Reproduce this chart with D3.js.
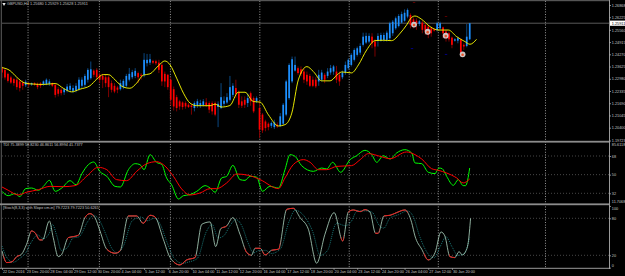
<!DOCTYPE html>
<html>
<head>
<meta charset="utf-8">
<script src="https://cdn.jsdelivr.net/npm/d3@7"></script>
<style>
html,body{margin:0;padding:0;background:#000;overflow:hidden}
svg{display:block}
text{font-family:"Liberation Sans",Arial,sans-serif;font-size:3.8px;fill:#c4c4c4}
</style>
</head>
<body>
<svg id="chart" width="625" height="276"></svg>
<script>
// GBPUSD H4 candles, prices in units of 0.0001
const opens=[12354,12345,12324,12305,12296,12293,12284,12278,12264,12275,
12268,12275,12271,12273,12270,12271,12271,12275,12266,12243,
12240,12227,12236,12240,12234,12236,12243,12261,12266,12293,
12301,12341,12345,12319,12313,12306,12306,12275,12261,12252,
12243,12254,12261,12293,12306,12313,12328,12319,12319,12380,
12383,12392,12390,12383,12371,12324,12319,12293,12243,12201,
12179,12173,12170,12161,12157,12144,12156,12156,12159,12173,
12170,12170,12170,12149,12144,12166,12173,12187,12213,12249,
12226,12179,12187,12170,12222,12196,12179,12144,12109,12073,
12061,12050,12043,12056,12050,12061,12109,12196,12284,12341,
12354,12348,12336,12319,12313,12293,12293,12284,12293,12319,
12313,12331,12336,12336,12319,12306,12331,12354,12371,12398,
12424,12436,12477,12489,12494,12520,12494,12499,12499,12503,
12503,12512,12538,12564,12576,12594,12604,12626,12634,12611,
12604,12587,12594,12582,12573,12564,12559,12556,12564,12569,
12547,12538,12515,12499,12499,12506,12477,12471,12506];
const closes=[12331,12305,12287,12278,12275,12254,12249,12261,12282,12268,
12275,12268,12254,12261,12284,12293,12284,12261,12213,12219,
12222,12243,12257,12261,12249,12261,12293,12293,12313,12345,
12348,12319,12306,12293,12293,12275,12254,12240,12231,12240,
12275,12287,12313,12324,12333,12340,12306,12313,12398,12398,
12401,12383,12380,12345,12284,12284,12254,12187,12152,12144,
12152,12149,12152,12149,12149,12170,12179,12170,12179,12159,
12135,12126,12109,12166,12201,12182,12201,12254,12261,12219,
12161,12156,12161,12196,12179,12126,12196,12030,12026,12038,
12043,12065,12068,12047,12100,12161,12284,12371,12401,12371,
12328,12324,12293,12284,12261,12261,12258,12319,12331,12293,
12336,12354,12363,12293,12284,12331,12371,12398,12424,12450,
12459,12471,12520,12524,12524,12485,12468,12524,12529,12529,
12541,12591,12599,12617,12629,12639,12646,12661,12582,12573,
12587,12601,12556,12547,12529,12538,12552,12591,12591,12538,
12512,12506,12477,12506,12512,12433,12468,12520,12591];
const highs=[12363,12354,12331,12314,12301,12301,12293,12289,12293,12280,
12278,12280,12278,12280,12289,12300,12296,12278,12275,12254,
12249,12249,12271,12275,12264,12275,12306,12306,12324,12354,
12389,12348,12354,12328,12324,12319,12317,12289,12275,12261,
12293,12296,12324,12355,12345,12354,12336,12328,12433,12429,
12429,12398,12398,12398,12380,12336,12324,12306,12257,12213,
12187,12179,12179,12170,12166,12179,12192,12187,12191,12196,
12179,12179,12179,12179,12275,12205,12222,12313,12275,12293,
12236,12205,12205,12222,12231,12205,12205,12179,12117,12082,
12068,12073,12082,12068,12117,12170,12293,12380,12415,12415,
12363,12363,12354,12336,12324,12310,12306,12345,12345,12328,
12354,12371,12371,12366,12336,12341,12389,12406,12433,12459,
12468,12485,12541,12541,12538,12538,12506,12538,12541,12541,
12552,12599,12608,12626,12639,12652,12664,12669,12643,12622,
12617,12608,12604,12591,12582,12573,12564,12599,12599,12573,
12556,12547,12520,12512,12520,12512,12485,12587,12593];
const lows=[12301,12293,12278,12271,12261,12240,12231,12240,12254,12254,
12261,12261,12243,12249,12261,12264,12261,12254,12199,12205,
12210,12213,12226,12226,12222,12226,12236,12249,12254,12278,
12293,12306,12293,12275,12249,12254,12201,12226,12222,12222,
12236,12243,12252,12284,12296,12301,12275,12293,12306,12363,
12371,12376,12371,12328,12261,12254,12240,12156,12131,12126,
12135,12135,12140,12144,12109,12126,12144,12144,12152,12149,
12117,12109,12100,12043,12138,12152,12166,12179,12201,12196,
12144,12144,12144,12149,12156,12117,12170,11986,12012,12021,
12026,12038,12033,12038,12043,12054,12100,12187,12275,12336,
12319,12310,12275,12266,12254,12254,12249,12261,12284,12275,
12301,12319,12319,12275,12261,12296,12319,12345,12363,12389,
12415,12424,12468,12482,12485,12459,12415,12468,12494,12494,
12494,12503,12524,12556,12569,12587,12599,12617,12564,12564,
12556,12576,12538,12529,12512,12520,12547,12547,12556,12512,
12494,12494,12459,12494,12485,12415,12450,12464,12503];

// Yellow moving average, bar index and price
const maBars=[0,2.7,5,7.8,10.6,14,18,20.7,23.5,26.3,29.7,32,34.2,36,38.2,41,43.2,45.5,47.7,50,52.8,55,56.8,59,61.3,63.5,65.8,70.3,72,74.2,77,79.8,82.1,84.9,87.2,90,93.4,95.6,97.9,100.1,103,105.2,108,110.8,113.6,114.8,118.1,120.4,123.2,126,128.8,131.6,134.5,136.7,138.4,139.5,141.8,144.6,147.4,150.8,153.6,156.4,158.1,160.3];
const maValues=[12357,12341,12306,12275,12270,12268,12273,12248,12229,12243,12261,12296,12320,12320,12292,12254,12248,12275,12317,12324,12366,12392,12371,12301,12222,12170,12156,12156,12164,12149,12157,12227,12227,12178,12175,12108,12049,12056,12117,12292,12362,12336,12287,12287,12324,12334,12329,12371,12450,12499,12501,12499,12538,12582,12622,12629,12611,12573,12555,12555,12520,12494,12480,12506];

// Signal markers on the price pane
const signalBars=[139.2,143.8,149.9,155.6];
const signalPrices=[12584,12546,12525,12427];
const dashBars=[139.2,150,138.5,150];
const dashPrices=[12703,12629,12460,12429];
const dashColors=["#5a0000","#5a0000","#000080","#000080"];

// TDI pane
const tdiGreenBars=[0,2.1,4.4,6,8,10,12.3,14,16,18,20.2,23,25,27,29.2,31,33,35.4,38.2,40,42.7,45,46.6,48,50,52.2,54,55.6,57.3,59.6,61.3,63.5,65.8,68.6,70.3,72,74.2,75.9,78,80.4,82.1,83.8,86,88,90.5,93.4,95.6,97.3,99,101.2,105.2,108,109.7,111.7,114.4,117.6,119.8,122.6,124.9,126.6,128.8,131.1,133.3,136.1,138.4,139.5,141.8,144,146.3,147.6,148.7,150.2,152.5,154.1,155.8,156.6,158];
const tdiGreen=[33.9,29.7,31.7,28.8,36.5,37.1,34.9,38.7,44.5,33.9,37.1,44.2,40.3,51,59.7,62.2,53.2,48.4,38.7,38.1,54.8,60.6,59.7,54.8,69.3,61.9,59.7,46.8,40.3,26.5,29.7,30.7,33.9,39.4,37.1,33,46.8,48.4,59,45.2,44.5,48.4,47.7,33.9,38.7,37.1,54.8,69.3,67.7,58.7,53.2,56.4,55.5,61.9,52.3,64.5,68.3,73.5,69.3,61.9,68.3,65.1,70.9,74.1,70.9,61.3,60.6,52.3,51,56.4,55.8,48.4,39.7,45.2,39.4,39.4,56.4];
const tdiRedBars=[0,2.1,5.5,8.3,12.3,16.2,20.7,24.7,28.6,32.5,35.4,38.7,42.1,45.5,48.9,52.2,54.5,57.9,60.7,63.5,66.9,70.3,72.5,75.9,79.3,83.2,87.2,93.4,95.6,98.4,101.8,104.1,106.9,109.7,113.1,118.1,121,123.8,127.7,131.1,136.7,139.5,141.8,145.1,147.4,150.2,153.6,155.8,158];
const tdiRed=[38.1,34.9,30.4,33,35.5,38.7,38.4,39.4,48.4,57.1,54.8,45.2,44.2,53.2,60.6,62.5,59.7,48.4,36.2,30.4,32.3,36.5,36.5,42,50.6,49.4,45.2,36.5,46.8,59.7,64.5,61.9,54.8,54.8,58,58.7,64.5,70.3,67.7,65.4,71.9,69.3,65.1,55.8,54.2,51.6,46.8,42,45.8];

// Stochastic pane
const stochBars=[0,1.6,3.3,5,6.6,8.3,10,11.1,12.8,13.7,16,17.3,19,20.2,22.4,24.1,25.8,28,29.7,31.4,33.1,35.4,38.2,39.9,42.7,45.5,47.7,50,51.7,54.5,56.8,60.1,62.4,65.2,67.5,70.3,72.2,73.9,75.9,78,80.4,82.7,84.3,85.5,87.2,88.9,91.1,93.4,96.2,98.4,100.7,103.5,106.3,109.1,112.2,115.1,117,118.7,121,122.6,124.3,126.2,127.1,129,131.1,133.3,136.1,138.4,139.5,141.8,144,146.3,148.3,149.6,151.3,153,154.4,155.5,156.6,157.5,158.3];
const stochMain=[27,8.2,9.3,17.9,21.7,37.9,59.5,56.8,44.9,44.9,75.7,48.7,17.9,21.7,48.7,50.3,52.5,81.1,87.6,81.1,59.5,29.8,23.3,27.1,83.8,83.8,71.9,84.9,82.2,46,16.3,4.4,12.5,16.3,70.3,74.1,34.1,63.3,67.6,81.1,54.1,24.4,20.1,31.4,31.4,20.6,28.2,29.8,94.6,96.2,81.1,62.2,7.1,54.1,89.2,43.3,90.3,93.5,90.8,94,90.3,55.7,55.7,83.8,84.9,89.2,93.5,73,51.4,29.8,12.5,24.4,57.9,51.4,17.9,16.3,26,20.6,26,40.6,80];
const stochSignalBars=[0,2,4,6,8,10,12,14,16,17,18.5,20,22,24,26,29,31,33,35,37,39,41,44,47,49,51.5,53,56,58,61,63,66,69,71,73,75,77,79,81,83,85,87,89,91,94,97,99,102,105,107.5,110,113,116,118,120,123,125,127.5,129,131,134,137,139,141,144,146,148,150,152,154,156,158];
const stochSignal=[35,14,9,15,24,42,53,47,56,70,52,28,32,48,50,75,85,76,55,32,24,35,76,82,76,80,74,38,16,7,9,15,58,70,48,52,68,78,68,42,24,28,28,23,30,75,93,84,58,20,28,72,68,75,92,92,90,68,64,80,86,92,82,52,22,16,34,50,34,20,22,48.7];
// Bar spans where the stochastic is painted red
const stochRedStart=[0.5,9.5,22,28,35.4,42.5,47,58,74.2,82,85.5,88,91,96,114.5,117,126,129,142.5,151];
const stochRedEnd=[6,13.7,26,31,40,46,52,65.5,76,84,87.5,90,94,99,115.5,123.5,127.5,137,144.5,153];

// Axis labels
const timeTicks=["22 Dec 2016","23 Dec 20:00","28 Dec 04:00","29 Dec 12:00","30 Dec 20:00","4 Jan 04:00","5 Jan 12:00","6 Jan 20:00","10 Jan 04:00","11 Jan 12:00","12 Jan 20:00","16 Jan 04:00","17 Jan 12:00","18 Jan 20:00","20 Jan 04:00","23 Jan 12:00","24 Jan 20:00","26 Jan 04:00","27 Jan 12:00","30 Jan 20:00"];
const dayLines=[8.8,32.9,56.9,87.1,117.3,147.4,183.6];
const priceTicks=[12687,12622.5,12556,12491.5,12427,12362.5,12298,12233.5,12169,12104.5,12040,11972.3];
const priceTickLabels=["1.26868","1.26225","1.25560","1.24915","1.24270","1.23625","1.22980","1.22335","1.21690","1.21045","1.20400","1.19723"];
const lastPrice=12591;
const tdiTicks=[68,50,32];
const stochTicks=[100,80,20,0];

const titleMain="GBPUSD,H4  1.25680 1.25929 1.25628 1.25911";
const titleTdi="TDI 75.3899 58.8230 46.8611 56.8994 41.7377";
const titleStoch="[Stoch(8,3,3) with Slope cm.in] 79.7223 79.7223 50.6265";

const svg=d3.select("#chart");
const axisX=609.5;
const x=d3.scaleLinear().domain([0,158]).range([2,469.7]);
const yMain=d3.scaleLinear().domain([12687,12040]).range([5,127.7]);
const yTdi=d3.scaleLinear().domain([68,32]).range([156,193.3]);
const yStoch=d3.scaleLinear().domain([80,20]).range([218.3,255.3]);

const defs=svg.append("defs");
defs.append("clipPath").attr("id","mainClip").append("rect").attr("x",2).attr("y",1).attr("width",axisX-2).attr("height",139.5);
const redClip=defs.append("clipPath").attr("id","stochRed");
stochRedStart.forEach((s,i)=>redClip.append("rect")
  .attr("x",x(s)).attr("y",205).attr("width",x(stochRedEnd[i])-x(s)).attr("height",63));

// Dotted level lines
const levels=svg.append("g").attr("stroke","#666").attr("stroke-width",0.7).attr("stroke-dasharray","1 2");
tdiTicks.forEach(t=>levels.append("line").attr("x1",2).attr("x2",axisX).attr("y1",yTdi(t)).attr("y2",yTdi(t)));
[80,20].forEach(t=>levels.append("line").attr("x1",2).attr("x2",axisX).attr("y1",yStoch(t)).attr("y2",yStoch(t)));

// Dotted day separators
svg.append("g").attr("stroke","#a8a8a8").attr("stroke-width",0.9).attr("stroke-dasharray","1 1.6")
  .selectAll("line").data(dayLines).join("line")
  .attr("x1",d=>x(d)).attr("x2",d=>x(d)).attr("y1",1).attr("y2",268);

// Last price line
svg.append("line").attr("x1",2).attr("x2",axisX).attr("y1",yMain(lastPrice)).attr("y2",yMain(lastPrice))
  .attr("stroke","#6e6e6e").attr("stroke-width",0.8);

// Candles
const bars=d3.range(opens.length);
const isUp=i=>closes[i]>=opens[i];
const candles=svg.append("g").attr("clip-path","url(#mainClip)");
candles.append("g").selectAll("line").data(bars).join("line")
  .attr("x1",i=>x(i)).attr("x2",i=>x(i))
  .attr("y1",i=>yMain(highs[i])).attr("y2",i=>yMain(lows[i]))
  .attr("stroke",i=>isUp(i)?"#0b4f8f":"#8a0000").attr("stroke-width",0.9);
candles.append("g").selectAll("rect").data(bars).join("rect")
  .attr("x",i=>x(i)-0.85).attr("width",1.7)
  .attr("y",i=>yMain(Math.max(opens[i],closes[i])))
  .attr("height",i=>Math.max(0.8,Math.abs(yMain(opens[i])-yMain(closes[i]))))
  .attr("fill",i=>isUp(i)?"#1e90ff":"#ff0000");

// Small dashes left by the arrow indicator
svg.append("g").selectAll("rect").data(dashBars).join("rect")
  .attr("x",(d)=>x(d)-1.2).attr("width",2.4).attr("height",1)
  .attr("y",(d,i)=>yMain(dashPrices[i])).attr("fill",(d,i)=>dashColors[i]);

// Moving average
const maLine=d3.line().x((d,i)=>x(maBars[i])).y(d=>yMain(d)).curve(d3.curveMonotoneX);
svg.append("path").attr("d",maLine(maValues)).attr("fill","none").attr("stroke","#ffff00").attr("stroke-width",0.9);

// Round markers
const markers=svg.append("g").selectAll("g").data(signalBars).join("g")
  .attr("transform",(d,i)=>`translate(${x(d)},${yMain(signalPrices[i])})`);
markers.append("circle").attr("r",2.9).attr("fill","#cfc4c4");
markers.append("circle").attr("r",1.3).attr("cy",0.4).attr("fill","#e8552a");

// TDI lines
const lineOf=(xs,ys,scale)=>d3.line().x((d,i)=>x(xs[i])).y(d=>scale(d)).curve(d3.curveMonotoneX)(ys);
svg.append("path").attr("d",lineOf(tdiGreenBars,tdiGreen,yTdi)).attr("fill","none").attr("stroke","#00ff00").attr("stroke-width",1);
svg.append("path").attr("d",lineOf(tdiRedBars,tdiRed,yTdi)).attr("fill","none").attr("stroke","#ff0000").attr("stroke-width",1);

// Stochastic lines
svg.append("path").attr("d",lineOf(stochSignalBars,stochSignal,yStoch)).attr("fill","none")
  .attr("stroke","#1f8f8f").attr("stroke-width",0.8).attr("stroke-dasharray","1 1");
const stochPath=lineOf(stochBars,stochMain,yStoch);
svg.append("path").attr("d",stochPath).attr("fill","none").attr("stroke","#a6ccb8").attr("stroke-width",0.85);
svg.append("path").attr("d",stochPath).attr("fill","none").attr("stroke","#ff0000").attr("stroke-width",0.85).attr("clip-path","url(#stochRed)");

// Frame and pane dividers
const frame=svg.append("g");
frame.append("rect").attr("x",0).attr("y",0).attr("width",axisX).attr("height",1.2).attr("fill","#555");
frame.append("rect").attr("x",0.8).attr("y",0).attr("width",0.9).attr("height",268).attr("fill","#6a6a6a");
frame.append("rect").attr("x",0).attr("y",140.8).attr("width",axisX).attr("height",1.8).attr("fill","#8c8c8c");
frame.append("rect").attr("x",0).attr("y",203.4).attr("width",axisX).attr("height",1.8).attr("fill","#8c8c8c");
frame.append("rect").attr("x",0).attr("y",267.8).attr("width",axisX).attr("height",1).attr("fill","#9a9a9a");
frame.append("rect").attr("x",axisX-0.5).attr("y",0).attr("width",1).attr("height",269).attr("fill","#9a9a9a");

// Right-hand axes
const styleAxis=g=>{
  g.select(".domain").remove();
  g.selectAll(".tick line").attr("stroke","#bdbdbd").attr("stroke-width",0.7);
  g.selectAll(".tick text").attr("fill","#c4c4c4").style("font-size","3.8px");
};
svg.append("g").attr("transform",`translate(${axisX},0)`)
  .call(d3.axisRight(yMain).tickValues(priceTicks).tickSize(1.5).tickPadding(0.8)
    .tickFormat((d,i)=>priceTickLabels[i])).call(styleAxis);
svg.append("g").attr("transform",`translate(${axisX},0)`)
  .call(d3.axisRight(yTdi).tickValues(tdiTicks).tickSize(1.5).tickPadding(0.8)).call(styleAxis);
const stochAxis=svg.append("g").attr("transform",`translate(${axisX},0)`)
  .call(d3.axisRight(yStoch).tickValues(stochTicks).tickSize(1.5).tickPadding(0.8)).call(styleAxis);
stochAxis.selectAll(".tick").filter(d=>d===100).select("text").attr("dy","0.9em");
stochAxis.selectAll(".tick").filter(d=>d===0).select("text").attr("dy","-0.3em");

// Pane extremes of the TDI scale
svg.append("text").attr("x",axisX+2.3).attr("y",146).text("85.6118");
svg.append("text").attr("x",axisX+2.3).attr("y",203.3).text("11.7068");

// Last price tag
const tag=svg.append("g").attr("transform",`translate(${axisX+0.5},${yMain(lastPrice)})`);
tag.append("rect").attr("x",0).attr("y",-2.6).attr("width",15).attr("height",5.2).attr("fill","#ffffff");
tag.append("text").attr("x",1.8).attr("y",1.3).style("fill","#000").text("1.25911");

// Time axis
const timeAxis=svg.append("g").attr("transform","translate(0,268.3)")
  .call(d3.axisBottom(x).tickValues(timeTicks.map((d,i)=>i*8)).tickSize(1.5).tickPadding(0.6)
    .tickFormat((d,i)=>timeTicks[i]));
timeAxis.select(".domain").remove();
timeAxis.selectAll(".tick line").attr("stroke","#bdbdbd").attr("stroke-width",0.7);
timeAxis.selectAll(".tick text").attr("text-anchor","start").attr("x",0.5).attr("fill","#c4c4c4").style("font-size","3.8px");

// Pane titles
svg.append("path").attr("d",d3.symbol(d3.symbolTriangle,5)()).attr("transform","translate(4,4) rotate(180)").attr("fill","#e8e8e8");
svg.append("text").attr("x",7).attr("y",5.4).text(titleMain);
svg.append("text").attr("x",3).attr("y",146.3).text(titleTdi);
svg.append("text").attr("x",3).attr("y",209.3).text(titleStoch);
</script>
</body>
</html>
